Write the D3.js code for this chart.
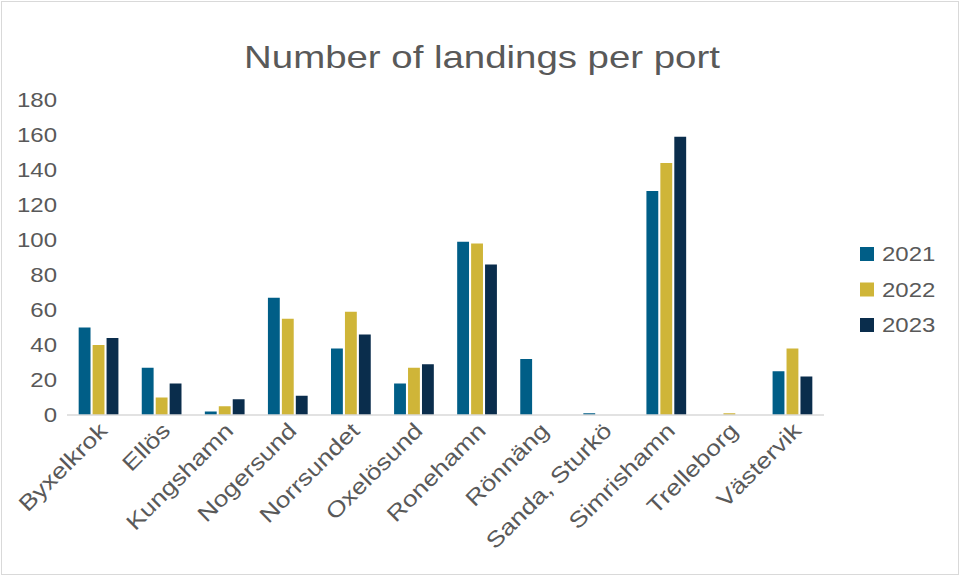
<!DOCTYPE html>
<html>
<head>
<meta charset="utf-8">
<script src="https://cdn.jsdelivr.net/npm/d3@7"></script>
<style>
  body { margin: 0; background: #fff; }
  text { font-family: "Liberation Sans", Arial, sans-serif; fill: #595959; }
</style>
</head>
<body>
<div id="chart"></div>
<script>
// data
var ports = ["Byxelkrok", "Ellös", "Kungshamn", "Nogersund", "Norrsundet", "Oxelösund",
             "Ronehamn", "Rönnäng", "Sanda, Sturkö", "Simrishamn", "Trelleborg", "Västervik"];
var years = ["2021", "2022", "2023"];
var landings2021 = [50, 27, 2, 67, 38, 18, 99, 32, 1, 128, 0, 25];
var landings2022 = [40, 10, 5, 55, 59, 27, 98, 0, 0, 144, 1, 38];
var landings2023 = [44, 18, 9, 11, 46, 29, 86, 0, 0, 159, 0, 22];
var yTicks = [0, 20, 40, 60, 80, 100, 120, 140, 160, 180];
var colors = ["#005e87", "#cfb538", "#0a2d4c"];

var series = [landings2021, landings2022, landings2023];

var width = 960, height = 576;
var plot = {left: 67, right: 824, top: 100, bottom: 415};
var stretch = "scale(1.2,1)"; // text in the reference is a bit wide

var svg = d3.select("#chart").append("svg")
    .attr("width", width)
    .attr("height", height);

// chart border
svg.append("rect")
    .attr("x", 1.5).attr("y", 1.5)
    .attr("width", width - 3).attr("height", height - 3)
    .attr("fill", "#fff")
    .attr("stroke", "#d9d9d9")
    .attr("stroke-width", 1);

var x0 = d3.scaleBand()
    .domain(ports)
    .range([plot.left, plot.right])
    .paddingInner(0.37)
    .paddingOuter(0.185);

var x1 = d3.scaleBand()
    .domain(years)
    .range([0, x0.bandwidth()])
    .paddingInner(0.15);

var y = d3.scaleLinear()
    .domain([0, 180])
    .range([plot.bottom, plot.top]);

// title
svg.append("text")
    .attr("transform", "translate(482,68) " + stretch)
    .attr("text-anchor", "middle")
    .style("font-size", "32px")
    .text("Number of landings per port");

// y axis labels
svg.append("g")
    .attr("class", "y-axis")
    .attr("transform", "translate(" + 57 + ",0)")
    .call(d3.axisLeft(y).tickValues(yTicks).tickSize(0).tickPadding(0))
    .call(function(g) { g.select(".domain").remove(); })
    .selectAll("text")
    .attr("transform", stretch)
    .style("font-size", "20px")
    .attr("fill", "#595959");

// bars
var groups = svg.append("g").selectAll("g")
    .data(ports)
  .enter().append("g")
    .attr("transform", function(d) { return "translate(" + x0(d) + ",0)"; });

groups.selectAll("rect")
    .data(function(d, i) {
      return years.map(function(yr, j) { return {year: yr, value: series[j][i], k: j}; });
    })
  .enter().append("rect")
    .attr("x", function(d) { return x1(d.year); })
    .attr("y", function(d) { return y(d.value); })
    .attr("width", x1.bandwidth())
    .attr("height", function(d) { return y(0) - y(d.value); })
    .attr("fill", function(d) { return colors[d.k]; });

// baseline
svg.append("line")
    .attr("x1", plot.left).attr("x2", plot.right)
    .attr("y1", y(0)).attr("y2", y(0))
    .attr("stroke", "#d9d9d9")
    .attr("stroke-width", 1.5);

// category labels
svg.append("g").selectAll("text")
    .data(ports)
  .enter().append("text")
    .attr("transform", function(d) {
      return "translate(" + (x0(d) + x0.bandwidth() / 2 + 10) + "," + 432 + ") rotate(-45) " + stretch;
    })
    .attr("text-anchor", "end")
    .style("font-size", "22px")
    .text(function(d) { return d; });

// legend
var legend = svg.append("g").selectAll("g")
    .data(years)
  .enter().append("g")
    .attr("transform", function(d, i) { return "translate(860," + (247 + i * 35.5) + ")"; });

legend.append("rect")
    .attr("width", 14).attr("height", 14)
    .attr("fill", function(d, i) { return colors[i]; });

legend.append("text")
    .attr("transform", "translate(22,7) " + stretch)
    .attr("dy", "0.35em")
    .style("font-size", "20px")
    .text(function(d) { return d; });
</script>
</body>
</html>
